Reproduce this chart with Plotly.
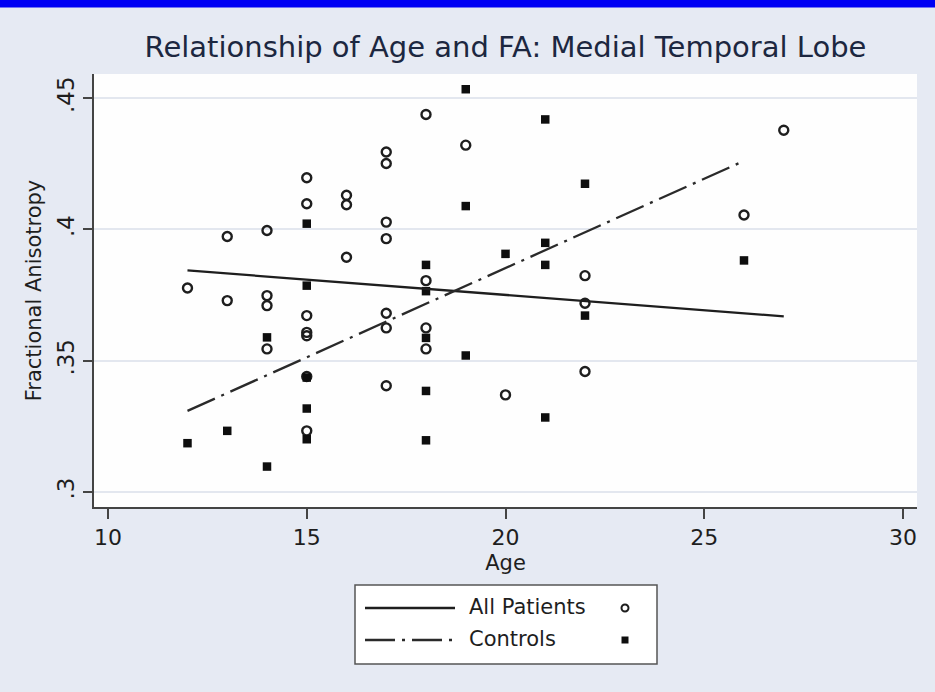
import plotly.graph_objects as go

# ---- data ----
patient_age = [12, 13, 13, 14, 14, 14, 14, 15, 15, 15, 15, 15, 15, 15,
               16, 16, 16, 17, 17, 17, 17, 17, 17, 17, 18, 18, 18, 18,
               19, 20, 22, 22, 22, 26, 27]
patient_fa = [0.3777, 0.3973, 0.3729, 0.3996, 0.3748, 0.3710, 0.3545,
              0.4197, 0.4098, 0.3672, 0.3608, 0.3595, 0.3440, 0.3233,
              0.4130, 0.4094, 0.3894,
              0.4295, 0.4251, 0.4028, 0.3965, 0.3681, 0.3625, 0.3405,
              0.4438, 0.3805, 0.3625, 0.3545,
              0.4321, 0.3370, 0.3824, 0.3719, 0.3459, 0.4055, 0.4378]

control_age = [12, 13, 14, 14, 15, 15, 15, 15, 15, 18, 18, 18, 18, 18,
               19, 19, 19, 20, 21, 21, 21, 21, 22, 22, 26]
control_fa = [0.3186, 0.3233, 0.3589, 0.3097,
              0.4022, 0.3786, 0.3436, 0.3318, 0.3201,
              0.3865, 0.3765, 0.3587, 0.3385, 0.3197,
              0.4534, 0.4089, 0.3520, 0.3907,
              0.4419, 0.3949, 0.3865, 0.3284,
              0.4174, 0.3672, 0.3882]

patient_fit_age = [12, 27]
patient_fit_fa = [0.3844, 0.3669]
control_fit_age = [12, 26]
control_fit_fa = [0.3309, 0.4261]

x_ticks = [10, 15, 20, 25, 30]
y_ticks = [0.30, 0.35, 0.40, 0.45]
y_tick_text = [".3", ".35", ".4", ".45"]

title_text = "Relationship of Age and FA: Medial Temporal Lobe"
legend_labels = ["All Patients", "Controls"]

FONT = "DejaVu Sans, Liberation Sans, sans-serif"
INK = "#1e1e1e"
DASHDOT = "30px,7px,3px,7px"

fig = go.Figure()

fig.add_trace(go.Scatter(
    x=patient_age, y=patient_fa, mode="markers", name=legend_labels[0],
    marker=dict(symbol="circle-open", size=9, color=INK, line=dict(width=2.4, color=INK)),
    showlegend=False))
fig.add_trace(go.Scatter(
    x=control_age, y=control_fa, mode="markers", name=legend_labels[1],
    marker=dict(symbol="square", size=8.5, color="#0e0e0e"),
    showlegend=False))
fig.add_trace(go.Scatter(
    x=patient_fit_age, y=patient_fit_fa, mode="lines", name=legend_labels[0] + " fit",
    line=dict(color=INK, width=2.3), showlegend=False))
fig.add_trace(go.Scatter(
    x=control_fit_age, y=control_fit_fa, mode="lines", name=legend_labels[1] + " fit",
    line=dict(color="#2a2a2a", width=2.3, dash=DASHDOT), showlegend=False))

W, H = 935, 692
ML, MR, MT, MB = 94, 18, 74, 185
PW, PH = W - ML - MR, H - MT - MB


def px(x):
    return (x - ML) / PW


def py(y):
    return (H - MB - y) / PH


shapes = []
# blue top band
shapes.append(dict(type="rect", xref="paper", yref="paper",
                   x0=px(-5), x1=px(W + 5), y0=py(7.5), y1=py(-5),
                   fillcolor="#0000f4", line=dict(width=0), layer="above"))
# legend box
shapes.append(dict(type="rect", xref="paper", yref="paper",
                   x0=px(355), x1=px(657), y0=py(664), y1=py(585),
                   fillcolor="white", line=dict(color="#555555", width=1.5)))
# legend line keys
shapes.append(dict(type="line", xref="paper", yref="paper",
                   x0=px(365), x1=px(455), y0=py(608), y1=py(608),
                   line=dict(color=INK, width=2.3)))
shapes.append(dict(type="line", xref="paper", yref="paper",
                   x0=px(365), x1=px(455), y0=py(640), y1=py(640),
                   line=dict(color="#2a2a2a", width=2.3, dash=DASHDOT)))
# legend marker keys
shapes.append(dict(type="circle", xref="paper", yref="paper",
                   xsizemode="pixel", ysizemode="pixel",
                   xanchor=px(625), yanchor=py(608),
                   x0=-3.5, x1=3.5, y0=-3.5, y1=3.5,
                   line=dict(color=INK, width=2)))
shapes.append(dict(type="rect", xref="paper", yref="paper",
                   xsizemode="pixel", ysizemode="pixel",
                   xanchor=px(625), yanchor=py(640),
                   x0=-3.5, x1=3.5, y0=-3.5, y1=3.5,
                   fillcolor="#0e0e0e", line=dict(width=0)))

annotations = [
    dict(text=legend_labels[0], xref="paper", yref="paper", x=px(467), y=py(607),
         xanchor="left", yanchor="middle", showarrow=False,
         font=dict(family=FONT, size=21, color=INK)),
    dict(text=legend_labels[1], xref="paper", yref="paper", x=px(467), y=py(639),
         xanchor="left", yanchor="middle", showarrow=False,
         font=dict(family=FONT, size=21, color=INK)),
]

fig.update_layout(
    width=W, height=H,
    margin=dict(l=ML, r=MR, t=MT, b=MB, pad=0),
    paper_bgcolor="#e6eaf3",
    plot_bgcolor="#fefefe",
    title=dict(text=title_text, x=0.5, xref="paper", xanchor="center",
               y=1 - 47 / H, yref="container", yanchor="middle",
               font=dict(family=FONT, size=29, color="#1c2740")),
    xaxis=dict(range=[9.648, 30.352], tickvals=x_ticks, ticks="outside",
               ticklen=10, tickwidth=1.5, tickcolor="#444444",
               showline=True, linecolor="#444444", linewidth=1.5,
               showgrid=False, zeroline=False,
               tickfont=dict(family=FONT, size=22, color=INK),
               title=dict(text="Age", standoff=6,
                          font=dict(family=FONT, size=21, color=INK))),
    yaxis=dict(range=[0.2943, 0.4592], tickvals=y_ticks, ticktext=y_tick_text,
               tickangle=-90, ticks="outside", ticklen=9, tickwidth=1.5,
               tickcolor="#444444", showline=True, linecolor="#444444",
               linewidth=1.5, showgrid=True, gridcolor="#e3e7ef", gridwidth=2,
               zeroline=False,
               tickfont=dict(family=FONT, size=23, color=INK),
               title=dict(text="Fractional Anisotropy", standoff=6,
                          font=dict(family=FONT, size=21, color=INK))),
    shapes=shapes,
    annotations=annotations,
    showlegend=False,
)

fig.write_html("out.html")
